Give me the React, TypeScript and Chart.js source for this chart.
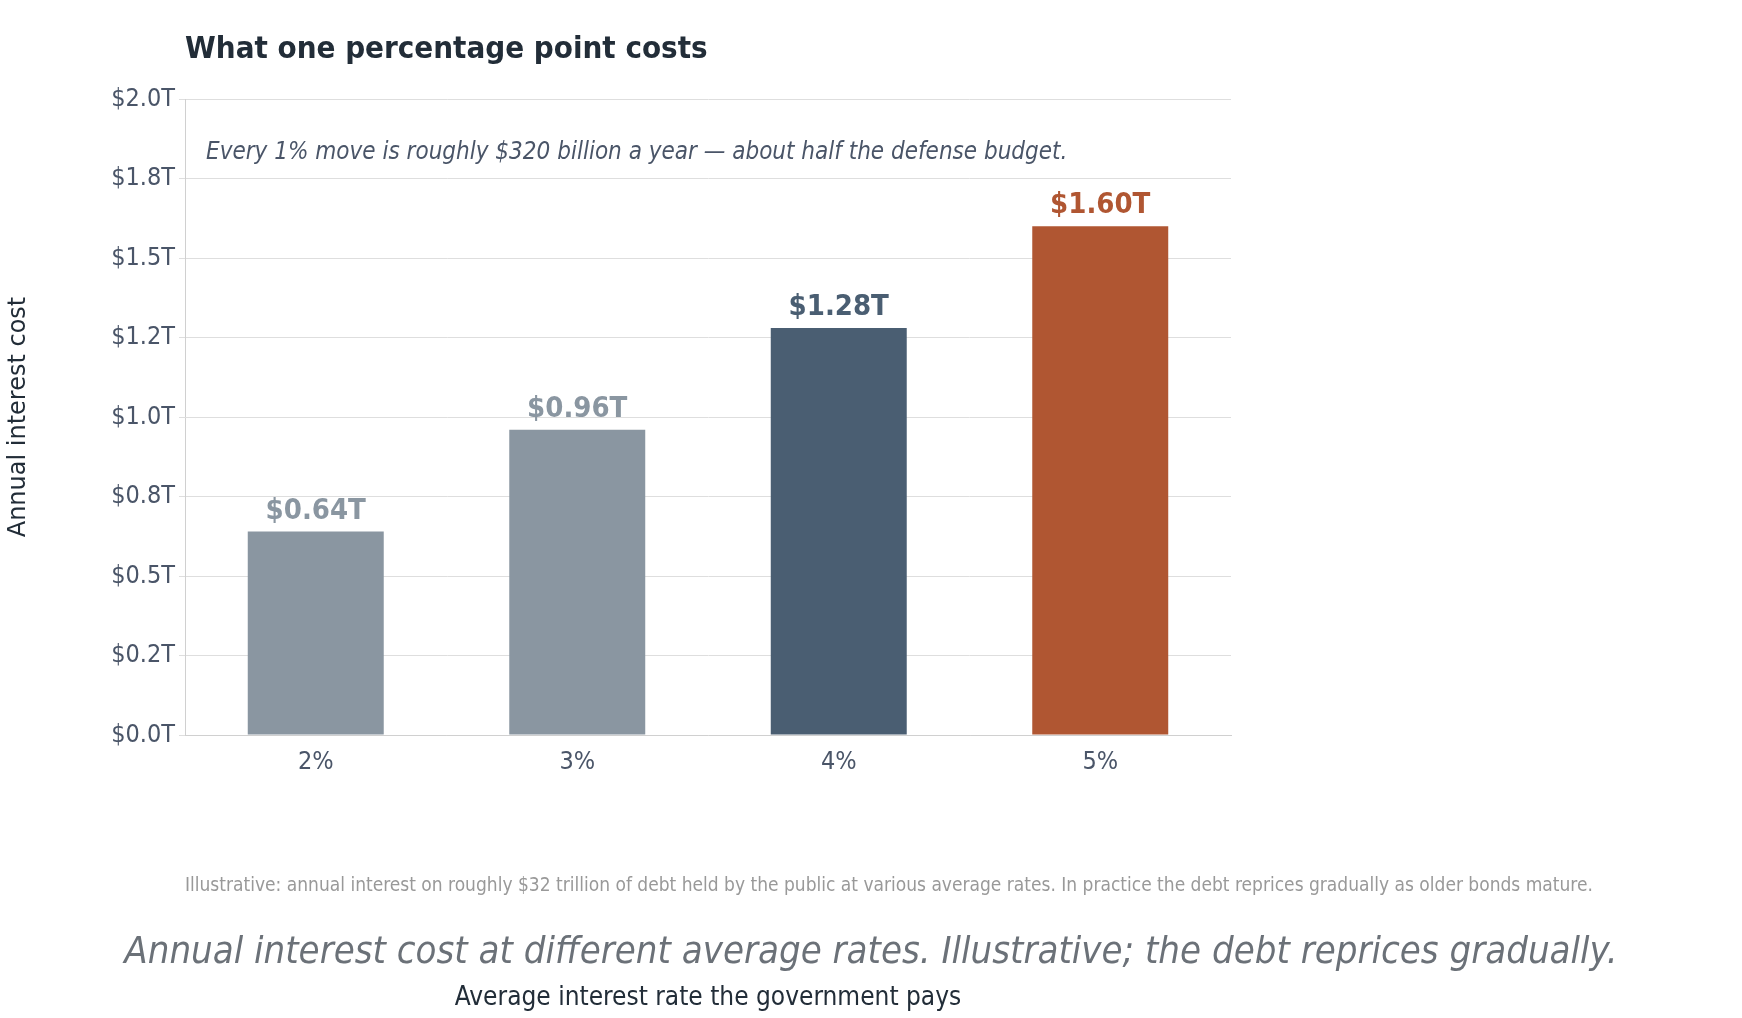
import React, { useEffect, useRef } from "react";
import { Chart, registerables } from "chart.js";
Chart.register(...registerables);

const categories = ["2%", "3%", "4%", "5%"];
const values = [0.64, 0.96, 1.28, 1.6];
const valueLabels = ["$0.64T", "$0.96T", "$1.28T", "$1.60T"];
const barColors = ["#8a96a1", "#8a96a1", "#4a5e72", "#b05632"];
const yTickLabels = ["$0.0T", "$0.2T", "$0.5T", "$0.8T", "$1.0T", "$1.2T", "$1.5T", "$1.8T", "$2.0T"];

const COND = '"DejaVu Sans Condensed", "Liberation Sans Narrow", "DejaVu Sans", sans-serif';

export default function App() {
  const ref = useRef<HTMLCanvasElement>(null);
  useEffect(() => {
    const textPlugin = {
      id: "texts",
      afterDraw(chart: any) {
        const ctx = chart.ctx;
        const { left, top, right } = chart.chartArea;
        ctx.save();
        ctx.textBaseline = "middle";
        ctx.textAlign = "left";
        ctx.fillStyle = "#222d38";
        ctx.font = `bold 31px ${COND}`;
        ctx.fillText("What one percentage point costs", left, 50);
        ctx.fillStyle = "#4a5568";
        ctx.font = `italic 24px ${COND}`;
        ctx.fillText("Every 1% move is roughly $320 billion a year \u2014 about half the defense budget.", left + 21, 153);
        ctx.fillStyle = "#999";
        ctx.font = `19px ${COND}`;
        ctx.fillText("Illustrative: annual interest on roughly $32 trillion of debt held by the public at various average rates. In practice the debt reprices gradually as older bonds mature.", left, 886);
        ctx.fillStyle = "#6b7178";
        ctx.font = `italic 38px ${COND}`;
        ctx.textAlign = "center";
        ctx.fillText("Annual interest cost at different average rates. Illustrative; the debt reprices gradually.", 871, 953);
        // bar labels
        const meta = chart.getDatasetMeta(0);
        ctx.font = `bold 29px ${COND}`;
        ctx.textBaseline = "bottom";
        meta.data.forEach((bar: any, i: number) => {
          ctx.fillStyle = barColors[i];
          ctx.fillText(valueLabels[i], bar.x, bar.y - 6);
        });
        ctx.restore();
      },
    };
    const chart = new Chart(ref.current!, {
      type: "bar",
      data: {
        labels: categories,
        datasets: [{ data: values, backgroundColor: barColors, barPercentage: 0.52, categoryPercentage: 1 }],
      },
      options: {
        animation: false,
        responsive: false,
        devicePixelRatio: 1,
        layout: { padding: { left: 0, right: 511, top: 99, bottom: 0 } },
        plugins: { legend: { display: false }, tooltip: { enabled: false } },
        scales: {
          x: {
            grid: { display: false },
            border: { color: "#d0d0d0" },
            ticks: { color: "#4a5568", font: { size: 25, family: COND }, padding: 4 },
            title: { display: true, text: "Average interest rate the government pays", color: "#222d38", font: { size: 26, family: COND }, padding: { top: 2 } },
            afterFit: (s: any) => { s.height = 283; },
          },
          y: {
            min: 0,
            max: 2,
            ticks: {
              stepSize: 0.25,
              color: "#4a5568",
              font: { size: 25, family: COND },
              padding: 4,
              callback: (_v: any, i: number) => yTickLabels[i],
            },
            grid: { color: "#dedede", tickLength: 6 },
            border: { color: "#d0d0d0" },
            title: { display: true, text: "Annual interest cost", color: "#222d38", font: { size: 24, family: '"DejaVu Sans", sans-serif' }, padding: { bottom: 8 } },
            afterFit: (s: any) => { s.width = 185; },
          },
        },
      },
      plugins: [textPlugin],
    });
    return () => chart.destroy();
  }, []);
  return <canvas ref={ref} width={1742} height={1018} style={{ position: "absolute", left: 0, top: 0, background: "#fff" }} />;
}
